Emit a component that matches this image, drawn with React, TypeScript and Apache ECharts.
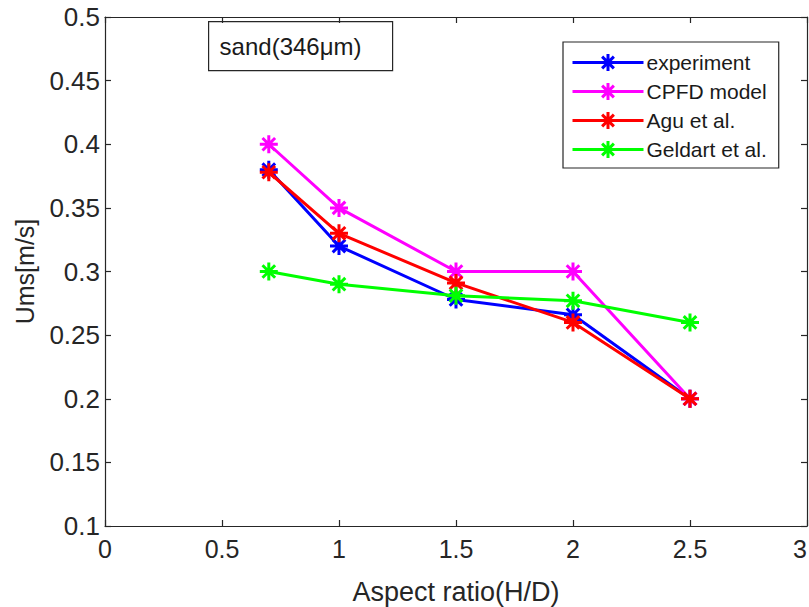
import React, { useEffect, useRef } from "react";
import * as echarts from "echarts";

const xValues = [0.7, 1, 1.5, 2, 2.5];
const experiment = [0.38, 0.32, 0.278, 0.266, 0.2];
const cpfdModel = [0.4, 0.35, 0.3, 0.3, 0.2];
const aguEtAl = [0.378, 0.33, 0.291, 0.26, 0.2];
const geldartEtAl = [0.3, 0.29, 0.281, 0.277, 0.26];
const seriesNames = ["experiment", "CPFD model", "Agu et al.", "Geldart et al."];
const seriesColors = ["#0000ff", "#ff00ff", "#ff0000", "#00ff00"];
const xTicks = ["0", "0.5", "1", "1.5", "2", "2.5", "3"];
const annotation = "sand(346μm)";

const STAR = "path://M0,-10L0,10M-10,0L10,0M-7,-7L7,7M-7,7L7,-7";
const FONT = "'Liberation Sans', Arial, sans-serif";

export default function App() {
  const ref = useRef<HTMLDivElement>(null);
  useEffect(() => {
    if (!ref.current) return;
    const chart = echarts.init(ref.current, null, { renderer: "svg", width: 809, height: 607 });
    const allData = [experiment, cpfdModel, aguEtAl, geldartEtAl];
    const axisLine = { show: true, onZero: false, lineStyle: { color: "#262626", width: 1.2 } };
    const axisTick = { show: true, inside: true, length: 6, lineStyle: { color: "#262626", width: 1.2 } };
    chart.setOption({
      animation: false,
      backgroundColor: "#ffffff",
      textStyle: { fontFamily: FONT },
      grid: { left: 105, right: 2, top: 17, bottom: 81, containLabel: false, outerBoundsMode: "none" },
      xAxis: [
        {
          type: "value",
          min: 0,
          max: 3,
          interval: 0.5,
          axisLine,
          axisTick,
          splitLine: { show: false },
          axisLabel: {
            color: "#262626",
            fontSize: 25,
            fontFamily: FONT,
            margin: 10,
            alignMaxLabel: "right",
            formatter: (v: number) => xTicks[Math.round(v / 0.5)] ?? String(v),
          },
          name: "Aspect ratio(H/D)",
          nameLocation: "middle",
          nameGap: 52,
          nameTextStyle: { color: "#262626", fontSize: 27, fontFamily: FONT },
        },
        {
          type: "value",
          position: "top",
          min: 0,
          max: 3,
          interval: 0.5,
          axisLine,
          axisTick,
          axisLabel: { show: false },
          splitLine: { show: false },
        },
      ],
      yAxis: [
        {
          type: "value",
          min: 0.1,
          max: 0.5,
          interval: 0.05,
          axisLine,
          axisTick,
          splitLine: { show: false },
          axisLabel: {
            color: "#262626",
            fontSize: 26,
            fontFamily: FONT,
            margin: 5,
            formatter: (v: number) => String(Math.round(v * 100) / 100),
          },
          name: "Ums[m/s]",
          nameLocation: "middle",
          nameGap: 68,
          nameTextStyle: { color: "#262626", fontSize: 25, fontFamily: FONT, fontWeight: 500 },
        },
        {
          type: "value",
          position: "right",
          min: 0.1,
          max: 0.5,
          interval: 0.05,
          axisLine,
          axisTick,
          axisLabel: { show: false },
          splitLine: { show: false },
        },
      ],
      legend: {
        orient: "vertical",
        left: 563,
        top: 42,
        padding: [10, 12, 8, 8],
        itemGap: 8,
        itemWidth: 71,
        itemHeight: 21,
        borderColor: "#262626",
        borderWidth: 1.2,
        backgroundColor: "#ffffff",
        lineStyle: { width: 3 },
        itemStyle: { borderWidth: 3 },
        textStyle: { color: "#1a1a1a", fontSize: 21, fontFamily: FONT, padding: [0, 0, 0, -2] },
        data: seriesNames,
      },
      series: seriesNames.map((name, i) => ({
        name,
        type: "line",
        data: xValues.map((x, j) => [x, allData[i][j]]),
        symbol: STAR,
        symbolSize: 18,
        showAllSymbol: true,
        lineStyle: { color: seriesColors[i], width: 3 },
        itemStyle: { color: seriesColors[i], borderColor: seriesColors[i], borderWidth: 3 },
        z: 2 + i,
      })),
      graphic: [
        {
          type: "group",
          left: 208,
          top: 21,
          children: [
            {
              type: "rect",
              shape: { x: 0, y: 0, width: 184, height: 49 },
              style: { fill: "#ffffff", stroke: "#262626", lineWidth: 1.2 },
            },
            {
              type: "text",
              x: 11,
              y: 25,
              style: {
                text: annotation,
                fill: "#1a1a1a",
                fontSize: 24,
                fontFamily: FONT,
                align: "left",
                verticalAlign: "middle",
              },
            },
          ],
        },
      ],
    });
    return () => chart.dispose();
  }, []);
  return <div ref={ref} style={{ width: 809, height: 607, position: "absolute", left: 0, top: 0 }} />;
}
